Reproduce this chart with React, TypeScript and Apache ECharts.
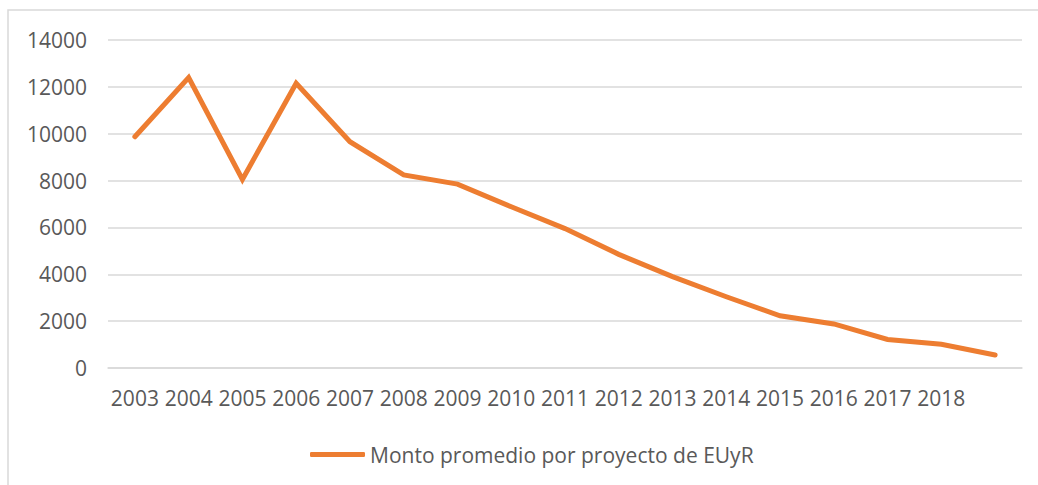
import React, { useEffect, useRef } from "react";
import * as echarts from "echarts";

const categories = ["2003", "2004", "2005", "2006", "2007", "2008", "2009", "2010", "2011", "2012", "2013", "2014", "2015", "2016", "2017", "2018", ""];
const montoPromedio = [9870, 12400, 8050, 12150, 9660, 8240, 7850, 6880, 5950, 4850, 3900, 3040, 2230, 1880, 1220, 1010, 555];
const seriesName = "Monto promedio por proyecto de EUyR";

export default function App() {
  const ref = useRef<HTMLDivElement>(null);
  useEffect(() => {
    if (!ref.current) return;
    const chart = echarts.init(ref.current, null, { renderer: "svg" });
    const font = "'Open Sans', Calibri, sans-serif";
    chart.setOption({
      animation: false,
      backgroundColor: "#ffffff",
      textStyle: { fontFamily: font },
      graphic: [
        {
          type: "rect",
          shape: { x: 8, y: 10, width: 1040, height: 490 },
          style: { fill: "none", stroke: "#d9d9d9", lineWidth: 1.5 },
          silent: true,
        },
      ],
      grid: { left: 108, right: 16, top: 40, bottom: 117, containLabel: false },
      legend: {
        left: 305,
        top: 439,
        icon: "roundRect",
        itemWidth: 55,
        itemHeight: 5,
        textStyle: { color: "#595959", fontSize: 21, fontFamily: font },
        data: [seriesName],
      },
      xAxis: {
        type: "category",
        data: categories,
        boundaryGap: true,
        axisLine: { show: true, lineStyle: { color: "#d9d9d9", width: 1.5 } },
        axisTick: { show: false },
        axisLabel: { color: "#595959", fontSize: 21, fontFamily: font, interval: 0, margin: 19 },
      },
      yAxis: {
        type: "value",
        min: 0,
        max: 14000,
        interval: 2000,
        axisLine: { show: false },
        axisTick: { show: false },
        splitLine: { lineStyle: { color: "#d9d9d9", width: 1.5 } },
        axisLabel: { color: "#595959", fontSize: 21, fontFamily: font, margin: 21, formatter: (v: number) => String(v) },
      },
      series: [
        {
          name: seriesName,
          type: "line",
          data: montoPromedio,
          symbol: "none",
          itemStyle: { color: "#ED7D31" },
          lineStyle: { color: "#ED7D31", width: 5, cap: "round", join: "miter" },
        },
      ],
    });
    return () => chart.dispose();
  }, []);
  return (
    <div
      ref={ref}
      style={{ position: "fixed", left: 0, top: 0, width: 1038, height: 485, background: "#fff" }}
    />
  );
}
